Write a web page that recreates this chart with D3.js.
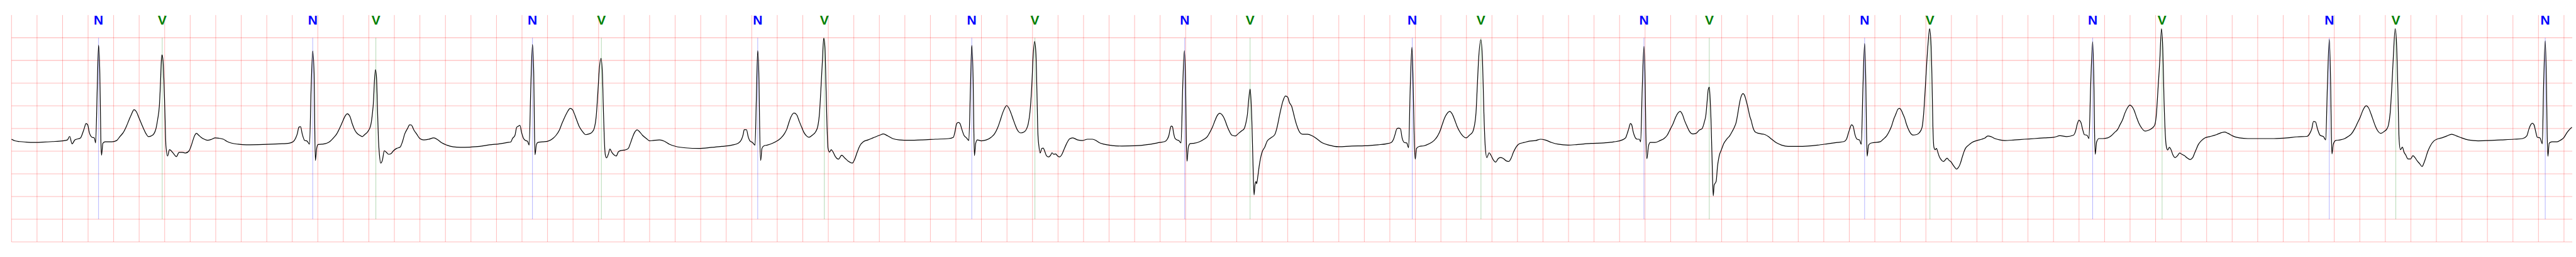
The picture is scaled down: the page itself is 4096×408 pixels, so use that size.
<!DOCTYPE html>
<html>
<head>
<meta charset="utf-8">
<script src="https://cdn.jsdelivr.net/npm/d3@7"></script>
<style>
html,body{margin:0;padding:0;background:#fff;}
svg{display:block;}
</style>
</head>
<body>
<svg id="chart" width="4096" height="408"></svg>
<script>
// ---- data (time in s, amplitude in mV) ----
const segA = [[0.000,-0.237],[0.026,-0.272],[0.064,-0.289],[0.116,-0.301],[0.167,-0.309],[0.245,-0.301],[0.322,-0.289],[0.399,-0.272],[0.438,-0.252],[0.456,-0.174],[0.474,-0.338],[0.497,-0.252],[0.541,-0.208],[0.553,-0.136],[0.569,-0.006],[0.584,0.110],[0.597,0.081],[0.610,-0.093],[0.631,-0.194],[0.649,-0.208],[0.659,-0.318],[0.672,0.920],[0.682,1.839],[0.692,1.209],[0.700,-0.237],[0.705,-0.590],[0.716,-0.324],[0.734,-0.295],[0.785,-0.295],[0.824,-0.266],[0.849,-0.179],[0.875,-0.093],[0.901,0.052],[0.922,0.197],[0.940,0.312],[0.960,0.414],[0.978,0.370],[0.996,0.254],[1.017,0.110],[1.035,-0.006],[1.055,-0.121],[1.073,-0.179],[1.094,-0.165],[1.115,-0.121],[1.133,0.009],[1.145,0.197],[1.158,0.486],[1.166,0.920],[1.174,1.498],[1.179,1.622],[1.187,1.498],[1.194,1.064],[1.202,0.341],[1.210,-0.382],[1.223,-0.607],[1.238,-0.468],[1.248,-0.483],[1.266,-0.541],[1.292,-0.619],[1.313,-0.526],[1.338,-0.526],[1.364,-0.541],[1.390,-0.497],[1.408,-0.382],[1.421,-0.266],[1.436,-0.150],[1.449,-0.107],[1.467,-0.150],[1.485,-0.194],[1.511,-0.237],[1.537,-0.260],[1.570,-0.237],[1.596,-0.208],[1.622,-0.214],[1.660,-0.237],[1.686,-0.281],[1.725,-0.324],[1.776,-0.347],[1.840,-0.359],[1.969,-0.353],[2.098,-0.338],[2.175,-0.324],[2.208,-0.289],[2.227,-0.208],[2.239,-0.121],[2.252,0.029],[2.265,0.038],[2.278,-0.121],[2.296,-0.260],[2.317,-0.281],[2.335,-0.347],[2.348,0.920],[2.360,1.706],[2.371,1.209],[2.376,0.052],[2.381,-0.706],[2.391,-0.440],[2.402,-0.353],[2.432,-0.347],[2.471,-0.324],[2.497,-0.281],[2.523,-0.208],[2.548,-0.121],[2.574,0.023],[2.592,0.139],[2.613,0.269],[2.631,0.324],[2.651,0.269],[2.669,0.110],[2.685,-0.006],[2.703,-0.093],[2.728,-0.150],[2.749,-0.179],[2.767,-0.136],[2.793,-0.064],[2.813,0.052],[2.826,0.283],[2.837,0.630],[2.844,1.064],[2.852,1.296],[2.860,1.122],[2.867,0.486],[2.875,-0.237],[2.883,-0.584],[2.893,-0.763],[2.906,-0.700],[2.921,-0.492],[2.937,-0.526],[2.955,-0.570],[2.973,-0.555],[2.991,-0.497],[3.017,-0.440],[3.045,-0.411],[3.063,-0.295],[3.081,-0.121],[3.102,-0.006],[3.120,0.081],[3.133,0.075],[3.153,-0.035],[3.174,-0.121],[3.200,-0.223],[3.230,-0.252],[3.269,-0.237],[3.308,-0.208],[3.341,-0.252],[3.372,-0.318],[3.411,-0.367],[3.462,-0.405],[3.514,-0.416],[3.591,-0.411],[3.668,-0.396],[3.745,-0.361],[3.822,-0.338],[3.887,-0.309],[3.913,-0.295],[3.925,-0.223]];
const segB = [[3.945,-0.150],[3.958,0.023],[3.971,0.052],[3.984,0.067],[3.997,-0.093],[4.010,-0.208],[4.028,-0.266],[4.043,-0.281],[4.056,-0.367],[4.069,0.920],[4.082,1.851],[4.092,1.209],[4.097,0.052],[4.102,-0.578],[4.113,-0.353],[4.125,-0.309],[4.164,-0.295],[4.203,-0.281],[4.241,-0.223],[4.267,-0.150],[4.293,-0.035],[4.313,0.110],[4.331,0.226],[4.352,0.347],[4.378,0.442],[4.396,0.414],[4.408,0.341],[4.427,0.197],[4.447,0.052],[4.473,-0.064],[4.499,-0.136],[4.524,-0.121],[4.550,-0.078],[4.568,0.023],[4.581,0.254],[4.594,0.775],[4.607,1.353],[4.619,1.547],[4.630,1.209],[4.637,0.486],[4.645,-0.237],[4.653,-0.584],[4.663,-0.648],[4.676,-0.570],[4.689,-0.454],[4.704,-0.526],[4.722,-0.584],[4.738,-0.607],[4.756,-0.512],[4.782,-0.483],[4.807,-0.474],[4.833,-0.440],[4.846,-0.353],[4.864,-0.208],[4.884,-0.078],[4.902,-0.029],[4.923,-0.078],[4.944,-0.150],[4.975,-0.223],[5.000,-0.272],[5.026,-0.266],[5.077,-0.252],[5.116,-0.281],[5.155,-0.347],[5.206,-0.396],[5.283,-0.428],[5.386,-0.440],[5.489,-0.416],[5.566,-0.396],[5.644,-0.367],[5.695,-0.324],[5.721,-0.237],[5.734,-0.121],[5.741,-0.026],[5.759,-0.026],[5.772,-0.179],[5.788,-0.281],[5.806,-0.309],[5.826,-0.367],[5.836,0.630],[5.847,1.715],[5.857,1.064],[5.862,0.052],[5.870,-0.706],[5.880,-0.440],[5.896,-0.382],[5.921,-0.367],[5.965,-0.324],[6.004,-0.266],[6.030,-0.208],[6.055,-0.121],[6.076,-0.006],[6.089,0.110],[6.107,0.254],[6.132,0.341],[6.153,0.298],[6.171,0.168],[6.192,0.023],[6.210,-0.093],[6.230,-0.165],[6.248,-0.194],[6.274,-0.150],[6.300,-0.078],[6.318,0.052],[6.331,0.341],[6.343,0.920],[6.354,1.498],[6.364,1.990],[6.374,1.787],[6.382,0.920],[6.390,0.052],[6.398,-0.440],[6.410,-0.521],[6.423,-0.468],[6.436,-0.512],[6.454,-0.613],[6.480,-0.677],[6.505,-0.590],[6.531,-0.656],[6.557,-0.723],[6.588,-0.763],[6.608,-0.671],[6.626,-0.526],[6.647,-0.382],[6.673,-0.295],[6.711,-0.252],[6.750,-0.208],[6.801,-0.150],[6.832,-0.121],[6.866,-0.165],[6.904,-0.223],[6.956,-0.252],[7.033,-0.260],[7.136,-0.252],[7.239,-0.237],[7.342,-0.223],[7.380,-0.194],[7.393,-0.064],[7.406,0.110],[7.419,0.133],[7.432,0.110],[7.445,-0.006],[7.463,-0.150],[7.483,-0.208],[7.501,-0.266],[7.514,0.920],[7.524,1.831],[7.535,1.064],[7.540,0.052],[7.545,-0.599],[7.555,-0.324],[7.568,-0.252],[7.599,-0.272],[7.638,-0.252],[7.676,-0.194],[7.702,-0.121],[7.728,0.023],[7.746,0.168],[7.766,0.341],[7.784,0.457],[7.797,0.506],[7.813,0.457],[7.831,0.341],[7.849,0.197],[7.864,0.081],[7.882,-0.035],[7.908,-0.098],[7.934,-0.078],[7.954,-0.006],[7.967,0.110],[7.980,0.356]];
const segC = [[7.994,0.920],[8.006,1.643],[8.017,1.917],[8.027,1.643],[8.035,0.775],[8.042,-0.093],[8.050,-0.382],[8.060,-0.541],[8.073,-0.440],[8.084,-0.434],[8.097,-0.512],[8.109,-0.599],[8.127,-0.628],[8.143,-0.584],[8.153,-0.535],[8.166,-0.570],[8.181,-0.561],[8.199,-0.613],[8.212,-0.628],[8.228,-0.584],[8.246,-0.468],[8.264,-0.353],[8.277,-0.281],[8.290,-0.231],[8.315,-0.208],[8.354,-0.252],[8.392,-0.266],[8.431,-0.237],[8.470,-0.237],[8.495,-0.260],[8.521,-0.309],[8.560,-0.347],[8.624,-0.376],[8.701,-0.388],[8.804,-0.382],[8.907,-0.353],[8.997,-0.309],[9.036,-0.289],[9.056,-0.237],[9.069,-0.150],[9.079,-0.006],[9.087,0.052],[9.097,0.038],[9.105,-0.093],[9.115,-0.208],[9.131,-0.252],[9.146,-0.266],[9.164,-0.318],[9.177,0.920],[9.190,1.715],[9.200,0.920],[9.205,-0.237],[9.211,-0.723],[9.221,-0.411],[9.236,-0.333],[9.267,-0.324],[9.306,-0.295],[9.344,-0.237],[9.370,-0.179],[9.388,-0.093],[9.409,0.023],[9.429,0.168],[9.447,0.283],[9.468,0.333],[9.486,0.298],[9.506,0.197],[9.525,0.052],[9.543,-0.064],[9.563,-0.150],[9.589,-0.165],[9.615,-0.107],[9.640,-0.049],[9.658,-0.006],[9.671,0.110],[9.684,0.312],[9.694,0.630],[9.705,0.868],[9.712,0.630],[9.720,0.052],[9.728,-0.815],[9.736,-1.466],[9.743,-1.249],[9.751,-1.168],[9.756,-1.220],[9.766,-1.047],[9.777,-0.815],[9.790,-0.613],[9.802,-0.497],[9.820,-0.411],[9.838,-0.281],[9.867,-0.208],[9.898,-0.136],[9.916,0.023],[9.929,0.197],[9.944,0.399],[9.962,0.601],[9.982,0.717],[10.000,0.688],[10.013,0.573],[10.031,0.486],[10.047,0.312],[10.060,0.168],[10.078,0.009],[10.096,-0.093],[10.116,-0.127],[10.155,-0.127],[10.193,-0.165],[10.232,-0.237],[10.271,-0.318],[10.322,-0.367],[10.399,-0.402],[10.502,-0.388],[10.605,-0.382],[10.708,-0.359],[10.772,-0.338],[10.811,-0.309],[10.829,-0.237],[10.842,-0.121],[10.855,-0.006],[10.868,0.009],[10.883,-0.006],[10.896,-0.208],[10.914,-0.309],[10.932,-0.318],[10.947,-0.425],[10.960,0.920],[10.973,1.793],[10.983,0.920],[10.991,-0.237],[10.999,-0.677],[11.009,-0.440],[11.030,-0.396],[11.068,-0.382],[11.107,-0.338],[11.146,-0.266],[11.171,-0.179],[11.192,-0.064],[11.210,0.081],[11.228,0.226],[11.248,0.327],[11.269,0.376],[11.287,0.327],[11.307,0.197],[11.326,0.052],[11.346,-0.064],[11.372,-0.165],[11.398,-0.208],[11.423,-0.150],[11.449,-0.078],[11.462,0.052],[11.475,0.341],[11.485,0.920],[11.495,1.498],[11.513,1.955],[11.526,1.498],[11.537,0.341],[11.547,-0.382],[11.560,-0.642],[11.578,-0.535],[11.591,-0.584],[11.609,-0.685],[11.629,-0.743],[11.647,-0.671],[11.665,-0.642],[11.686,-0.656],[11.712,-0.714],[11.732,-0.729],[11.750,-0.656],[11.768,-0.526],[11.789,-0.411],[11.814,-0.338],[11.853,-0.309],[11.892,-0.281],[11.943,-0.266],[11.982,-0.237],[12.015,-0.252]];
const segD = [[12.068,-0.309],[12.119,-0.347],[12.196,-0.367],[12.273,-0.353],[12.376,-0.330],[12.479,-0.318],[12.556,-0.295],[12.621,-0.252],[12.647,-0.208],[12.659,-0.121],[12.672,-0.006],[12.685,0.110],[12.695,0.081],[12.706,-0.064],[12.719,-0.179],[12.737,-0.237],[12.755,-0.237],[12.765,-0.295],[12.778,0.920],[12.791,1.810],[12.801,0.920],[12.806,-0.093],[12.814,-0.665],[12.827,-0.382],[12.840,-0.309],[12.878,-0.309],[12.917,-0.266],[12.948,-0.223],[12.973,-0.150],[12.999,-0.006],[13.020,0.110],[13.038,0.240],[13.058,0.341],[13.074,0.376],[13.092,0.312],[13.110,0.168],[13.128,0.052],[13.148,-0.064],[13.174,-0.121],[13.200,-0.107],[13.225,-0.035],[13.246,-0.006],[13.264,0.139],[13.277,0.312],[13.287,0.630],[13.295,0.862],[13.303,0.911],[13.310,0.630],[13.318,0.052],[13.326,-0.815],[13.334,-1.486],[13.341,-1.249],[13.349,-1.206],[13.357,-1.163],[13.367,-0.844],[13.380,-0.613],[13.398,-0.468],[13.418,-0.324],[13.439,-0.237],[13.462,-0.165],[13.483,-0.064],[13.501,0.038],[13.514,0.139],[13.527,0.341],[13.539,0.544],[13.552,0.703],[13.568,0.769],[13.581,0.717],[13.593,0.601],[13.606,0.457],[13.619,0.283],[13.632,0.168],[13.645,0.023],[13.663,-0.078],[13.689,-0.107],[13.714,-0.121],[13.740,-0.136],[13.766,-0.179],[13.792,-0.237],[13.830,-0.318],[13.869,-0.367],[13.920,-0.396],[13.997,-0.396],[14.075,-0.388],[14.152,-0.367],[14.229,-0.338],[14.306,-0.309],[14.358,-0.289],[14.378,-0.237],[14.391,-0.121],[14.404,-0.006],[14.417,0.081],[14.430,0.052],[14.443,-0.121],[14.461,-0.237],[14.479,-0.252],[14.494,-0.347],[14.507,0.920],[14.520,1.874],[14.530,0.920],[14.535,-0.093],[14.540,-0.613],[14.551,-0.367],[14.569,-0.324],[14.602,-0.309],[14.641,-0.295],[14.666,-0.237],[14.692,-0.165],[14.713,-0.064],[14.731,0.052],[14.749,0.211],[14.764,0.312],[14.782,0.428],[14.795,0.442],[14.808,0.399],[14.821,0.312],[14.834,0.226],[14.846,0.110],[14.859,0.009],[14.877,-0.093],[14.898,-0.145],[14.924,-0.136],[14.949,-0.093],[14.970,0.023],[14.983,0.341],[14.996,0.920],[15.008,1.498],[15.019,1.932],[15.029,2.200],[15.039,1.932],[15.047,1.209],[15.055,0.052],[15.063,-0.411],[15.073,-0.468],[15.083,-0.440],[15.094,-0.526],[15.104,-0.613],[15.119,-0.685],[15.137,-0.729],[15.150,-0.700],[15.166,-0.656],[15.181,-0.700],[15.199,-0.743],[15.212,-0.801],[15.227,-0.859],[15.240,-0.896],[15.253,-0.868],[15.268,-0.787],[15.284,-0.642],[15.297,-0.526],[15.310,-0.440],[15.335,-0.367],[15.361,-0.309],[15.400,-0.266],[15.438,-0.237],[15.464,-0.208],[15.485,-0.165],[15.510,-0.179],[15.541,-0.223],[15.580,-0.252],[15.618,-0.266],[15.695,-0.252],[15.773,-0.237],[15.850,-0.223],[15.927,-0.208],[16.004,-0.194],[16.051,-0.160]];
const segE = [[16.103,-0.179],[16.155,-0.150],[16.173,-0.058],[16.186,0.095],[16.199,0.182],[16.214,0.139],[16.227,-0.006],[16.242,-0.136],[16.263,-0.150],[16.278,-0.223],[16.291,0.920],[16.307,1.909],[16.317,0.920],[16.322,-0.093],[16.327,-0.570],[16.338,-0.295],[16.356,-0.223],[16.387,-0.223],[16.425,-0.208],[16.451,-0.165],[16.477,-0.093],[16.503,-0.020],[16.521,0.081],[16.542,0.197],[16.560,0.341],[16.580,0.457],[16.598,0.515],[16.614,0.486],[16.632,0.399],[16.650,0.254],[16.670,0.110],[16.691,0.009],[16.717,-0.058],[16.748,-0.035],[16.774,0.009],[16.794,0.081],[16.807,0.341],[16.820,0.920],[16.833,1.498],[16.846,2.200],[16.856,1.787],[16.866,0.630],[16.877,-0.179],[16.885,-0.411],[16.895,-0.474],[16.908,-0.416],[16.921,-0.468],[16.936,-0.584],[16.954,-0.642],[16.972,-0.599],[16.988,-0.541],[17.006,-0.570],[17.026,-0.599],[17.044,-0.642],[17.070,-0.685],[17.091,-0.642],[17.104,-0.555],[17.117,-0.468],[17.135,-0.353],[17.160,-0.266],[17.186,-0.208],[17.225,-0.179],[17.277,-0.136],[17.315,-0.093],[17.341,-0.078],[17.367,-0.107],[17.405,-0.165],[17.457,-0.208],[17.522,-0.223],[17.625,-0.223],[17.728,-0.223],[17.831,-0.208],[17.908,-0.185],[17.986,-0.174],[18.006,-0.121],[18.024,-0.006],[18.037,0.153],[18.053,0.145],[18.068,-0.006],[18.089,-0.150],[18.115,-0.179],[18.133,-0.252],[18.146,0.920],[18.161,1.961],[18.172,0.920],[18.177,-0.093],[18.182,-0.561],[18.192,-0.353],[18.210,-0.266],[18.244,-0.252],[18.282,-0.223],[18.308,-0.179],[18.334,-0.121],[18.360,-0.006],[18.380,0.110],[18.404,0.254],[18.424,0.399],[18.450,0.500],[18.468,0.457],[18.489,0.312],[18.507,0.168],[18.522,0.052],[18.540,-0.049],[18.566,-0.107],[18.592,-0.064],[18.613,-0.006],[18.625,0.081],[18.638,0.341],[18.651,0.920],[18.664,1.643],[18.677,2.200],[18.687,1.932],[18.698,0.920],[18.708,-0.237],[18.718,-0.468],[18.734,-0.411],[18.747,-0.526],[18.760,-0.584],[18.778,-0.671],[18.798,-0.671],[18.816,-0.599],[18.832,-0.642],[18.850,-0.714],[18.868,-0.772],[18.888,-0.839],[18.901,-0.772],[18.914,-0.671],[18.932,-0.512],[18.953,-0.382],[18.979,-0.281],[19.004,-0.237],[19.043,-0.208],[19.082,-0.165],[19.120,-0.127],[19.159,-0.165],[19.198,-0.208],[19.250,-0.252],[19.327,-0.272],[19.404,-0.266],[19.507,-0.252],[19.610,-0.237],[19.675,-0.223],[19.708,-0.165],[19.726,-0.006],[19.739,0.081],[19.752,0.116],[19.765,0.081],[19.778,-0.064],[19.791,-0.194],[19.812,-0.208],[19.830,-0.338],[19.840,0.920],[19.853,1.932],[19.863,0.920],[19.868,-0.093],[19.874,-0.613],[19.884,-0.324],[19.907,-0.295],[19.946,-0.295],[19.972,-0.260],[19.997,-0.208],[20.023,-0.093],[20.044,-0.020],[20.062,0.029]];

const nBeatTimes = [0.682, 2.360, 4.082, 5.847, 7.524, 9.193, 10.976, 12.791, 14.520, 16.307, 18.161, 19.853];
const vBeatTimes = [1.181, 2.855, 4.622, 6.369, 8.019, 9.705, 11.514, 13.303, 15.032, 16.851, 18.682];
const beatLabels = {N: "N", V: "V"};
const beatColors = {N: "blue", V: "green"};

// ---- layout ----
const svg = d3.select("#chart");
const tMax = 20.065;
const x = d3.scaleLinear().domain([0, tMax]).range([18.3, 4090.1]);
const y = d3.scaleLinear().domain([-2.5, 2.5]).range([384.0, 23.9]);

// grid
const gGrid = svg.append("g");
const vTicks = d3.range(0, 100.5, 1).map(k => k * 0.2);
gGrid.selectAll("line.v").data(vTicks).join("line")
  .attr("x1", d => x(d)).attr("x2", d => x(d))
  .attr("y1", y(2.5)).attr("y2", y(-2.5))
  .attr("stroke", "red").attr("stroke-opacity", 0.27).attr("stroke-width", 1);
const hTicks = d3.range(0, 10, 1).map(k => -2.5 + k * 0.5);
gGrid.selectAll("line.h").data(hTicks).join("line")
  .attr("x1", x(0)).attr("x2", x(tMax))
  .attr("y1", d => y(d)).attr("y2", d => y(d))
  .attr("stroke", "red").attr("stroke-opacity", 0.27).attr("stroke-width", 1.1);

// annotations
const beats = nBeatTimes.map(t => ({t, type: "N"})).concat(vBeatTimes.map(t => ({t, type: "V"})));
const gAnn = svg.append("g");
gAnn.selectAll("line").data(beats).join("line")
  .attr("x1", d => x(d.t)).attr("x2", d => x(d.t))
  .attr("y1", y(2.0)).attr("y2", y(-2.0))
  .attr("stroke", d => beatColors[d.type]).attr("stroke-opacity", 0.5).attr("stroke-width", 0.6);
gAnn.selectAll("text").data(beats).join("text")
  .attr("x", d => x(d.t)).attr("y", 39)
  .attr("text-anchor", "middle")
  .attr("font-family", "Liberation Sans, Arial, sans-serif")
  .attr("font-weight", "bold").attr("font-size", 21)
  .attr("fill", d => beatColors[d.type])
  .text(d => beatLabels[d.type]);

// trace
const trace = segA.concat(segB, segC, segD, segE);
const line = d3.line().x(d => x(d[0])).y(d => y(d[1])).curve(d3.curveMonotoneX);
svg.append("path").datum(trace)
  .attr("d", line).attr("fill", "none")
  .attr("stroke", "black").attr("stroke-width", 1.2).attr("stroke-linejoin", "round");
</script>
</body>
</html>
